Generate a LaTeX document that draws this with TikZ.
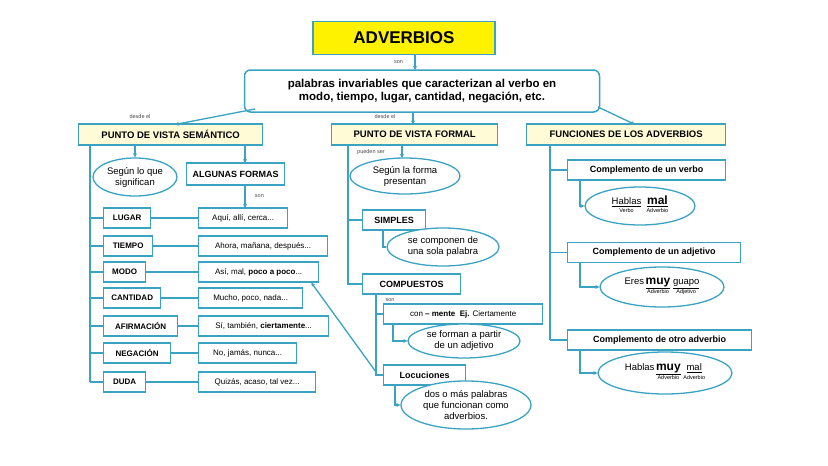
\documentclass[tikz,border=0pt]{standalone}
\usepackage{fontspec}
\setmainfont{Liberation Sans}
\usetikzlibrary{shapes.geometric,arrows.meta}
\definecolor{tl}{HTML}{3BA3C2}
\definecolor{ly}{HTML}{FFFBD6}
\tikzset{
 bx/.style={draw=tl,line width=1.3pt,fill=white,inner sep=3pt,anchor=west,font=\fontsize{8}{9}\selectfont\bfseries},
 hd/.style={bx,fill=ly,font=\fontsize{9.5}{11}\selectfont\bfseries},
 ex/.style={bx,font=\fontsize{8}{9}\selectfont},
 el/.style={draw=tl,line width=1.3pt,ellipse,fill=white,inner sep=1pt,align=center,font=\fontsize{9.5}{11}\selectfont},
 ln/.style={draw=tl,line width=1.3pt},
 ar/.style={ln,-{Stealth[length=4pt,width=4pt]}},
 lb/.style={font=\fontsize{5.5}{6}\selectfont,text=black!70}
}
\newcommand{\sm}[1]{{\fontsize{5.5}{6}\selectfont #1}}
\begin{document}
\begin{tikzpicture}[x=1pt,y=-1pt]
\useasboundingbox[fill=white] (0,0) rectangle (828,466);
\node[draw=tl,line width=1.5pt,fill=yellow,minimum width=182pt,minimum height=33pt,font=\fontsize{17}{19}\selectfont\bfseries] (adv) at (404,38) {ADVERBIOS};
\node[draw=tl,line width=1.5pt,rounded corners=6pt,minimum width=355pt,minimum height=42pt,align=center,font=\fontsize{11.5}{13.5}\selectfont\bfseries] (def) at (422,91) {palabras invariables que caracterizan al verbo en\\modo, tiempo, lugar, cantidad, negación, etc.};
\draw[ar] (415,55) -- node[lb,left,xshift=-8pt]{son} (415,70);
% headers
\node[hd,minimum width=184pt,minimum height=21pt] (sem) at (78,134.5) {PUNTO DE VISTA SEMÁNTICO};
\node[hd,minimum width=166pt,minimum height=21pt] (for) at (331,134.5) {PUNTO DE VISTA FORMAL};
\node[hd,minimum width=199pt,minimum height=21pt] (fun) at (526,134.5) {FUNCIONES DE LOS ADVERBIOS};
\draw[ar] (255,109) -- (175,124.5);
\node[lb] at (140,117) {desde el};
\draw[ar] (413,112) -- (413,124.5);
\node[lb] at (385,117) {desde el};
\draw[ar] (598,107) -- (635,124.5);
% semantic
\node[el,minimum width=84pt,minimum height=38pt] (sig) at (135,177) {Según lo que\\significan};
\draw[ar] (135,145) -- (sig.north);
\node[bx,minimum width=98pt,minimum height=22pt,font=\fontsize{9}{10}\selectfont\bfseries] (alg) at (186,174) {ALGUNAS FORMAS};
\foreach \n/\t/\w/\e/\ew/\y in {lug/LUGAR/47/{Aquí, allí, cerca...}/89/218,
  tie/TIEMPO/49/{Ahora, mañana, después...}/129/246,
  mod/MODO/42/{Así, mal, \textbf{poco a poco}...}/120/272,
  can/CANTIDAD/57/{Mucho, poco, nada...}/104/298,
  afi/AFIRMACIÓN/74/{Sí, también, \textbf{ciertamente}...}/130/326,
  neg/NEGACIÓN/67/{No, jamás, nunca...}/98/353,
  dud/DUDA/42/{Quizás, acaso, tal vez...}/117/382}{
  \node[bx,minimum width=\w pt,minimum height=20pt] (\n) at (103,\y) {\t};
  \node[ex,minimum width=\ew pt,minimum height=20pt] (\n-e) at (198,\y) {\e};
  \draw[ln] (\n.east) -- (\n-e.west);
  \draw[ln] (90,\y) -- (\n.west);
}
\draw[ln] (90,145) -- (90,382);
\draw[ar] (245,145) -- (245,163);
\draw[ar] (245,185) -- node[lb,right,xshift=6pt]{son} (245,208);
% formal
\node[el,minimum width=110pt,minimum height=36pt] (sfo) at (405,176) {Según la forma\\presentan};
\draw[ar] (402,145) -- (402,158);
\node[lb] at (371,152) {pueden ser};
\node[bx,minimum width=63pt,minimum height=20pt,font=\fontsize{9}{10}\selectfont\bfseries] (sim) at (362,220) {SIMPLES};
\node[el,minimum width=112pt,minimum height=38pt] (sol) at (443,247) {se componen de\\una sola palabra};
\draw[ln] (383,230) |- (sol.west);
\node[bx,minimum width=98pt,minimum height=20pt,font=\fontsize{9}{10}\selectfont\bfseries] (com) at (362,284) {COMPUESTOS};
\draw[ln] (348,145) -- (348,284) -- (com.west);
\draw[ln] (348,220) -- (sim.west);
\node[ex,minimum width=159pt,minimum height=20pt] (men) at (383,314) {con \textbf{– mente}\ \ \textbf{Ej.} Ciertamente};
\node[lb] at (390,300) {son};
\node[el,minimum width=112pt,minimum height=34pt] (adj) at (464,341) {se forman a partir\\de un adjetivo};
\draw[ar] (393,324) |- (adj.west);
\node[bx,minimum width=82pt,minimum height=20pt,font=\fontsize{9}{10}\selectfont\bfseries] (loc) at (383,375) {Locuciones};
\draw[ln] (376,294) -- (376,375) -- (loc.west);
\draw[ln] (376,314) -- (men.west);
\node[el,minimum width=130pt,minimum height=48pt] (dos) at (466,405) {dos o más palabras\\que funcionan como\\adverbios.};
\draw[ar] (395,385) |- (dos.west);
\draw[ar] (376,372) -- ([xshift=-8pt]mod-e.south east);
% funciones
\foreach \n/\t/\w/\y in {cv/Complemento de un verbo/158/170, ca/Complemento de un adjetivo/173/252.5, co/Complemento de otro adverbio/184/340}{
  \node[bx,minimum width=\w pt,minimum height=20pt,font=\fontsize{9}{10}\selectfont\bfseries] (\n) at (567,\y) {\t};
  \draw[ln] (550,\y) -- (\n.west);
}
\draw[ln] (550,145) -- (550,340);
\node[el,minimum width=110pt,minimum height=38pt] (ev) at (640,206) {\begin{tabular}{@{}c@{\ \ }c@{}}\underline{Hablas} & \underline{\textbf{\large mal}}\\[-3pt] \sm{Verbo} & \sm{Adverbio}\end{tabular}};
\node[el,minimum width=124pt,minimum height=40pt] (ea) at (662,287) {\begin{tabular}{@{}l@{\,}c@{\ }c@{}}Eres & \underline{\textbf{\large muy}} & \underline{guapo}\\[-3pt] & \sm{Adverbio} & \sm{Adjetivo}\end{tabular}};
\node[el,minimum width=134pt,minimum height=42pt] (eo) at (665,373) {\begin{tabular}{@{}l@{\,}c@{\ }c@{}}Hablas & \underline{\textbf{\large muy}} & \underline{mal}\\[-3pt] & \sm{Adverbio} & \sm{Adverbio}\end{tabular}};
\draw[ar] (580,180) |- (ev.west);
\draw[ar] (580,262.5) |- (ea.west);
\draw[ar] (580,350) |- (eo.west);
\end{tikzpicture}
\end{document}
